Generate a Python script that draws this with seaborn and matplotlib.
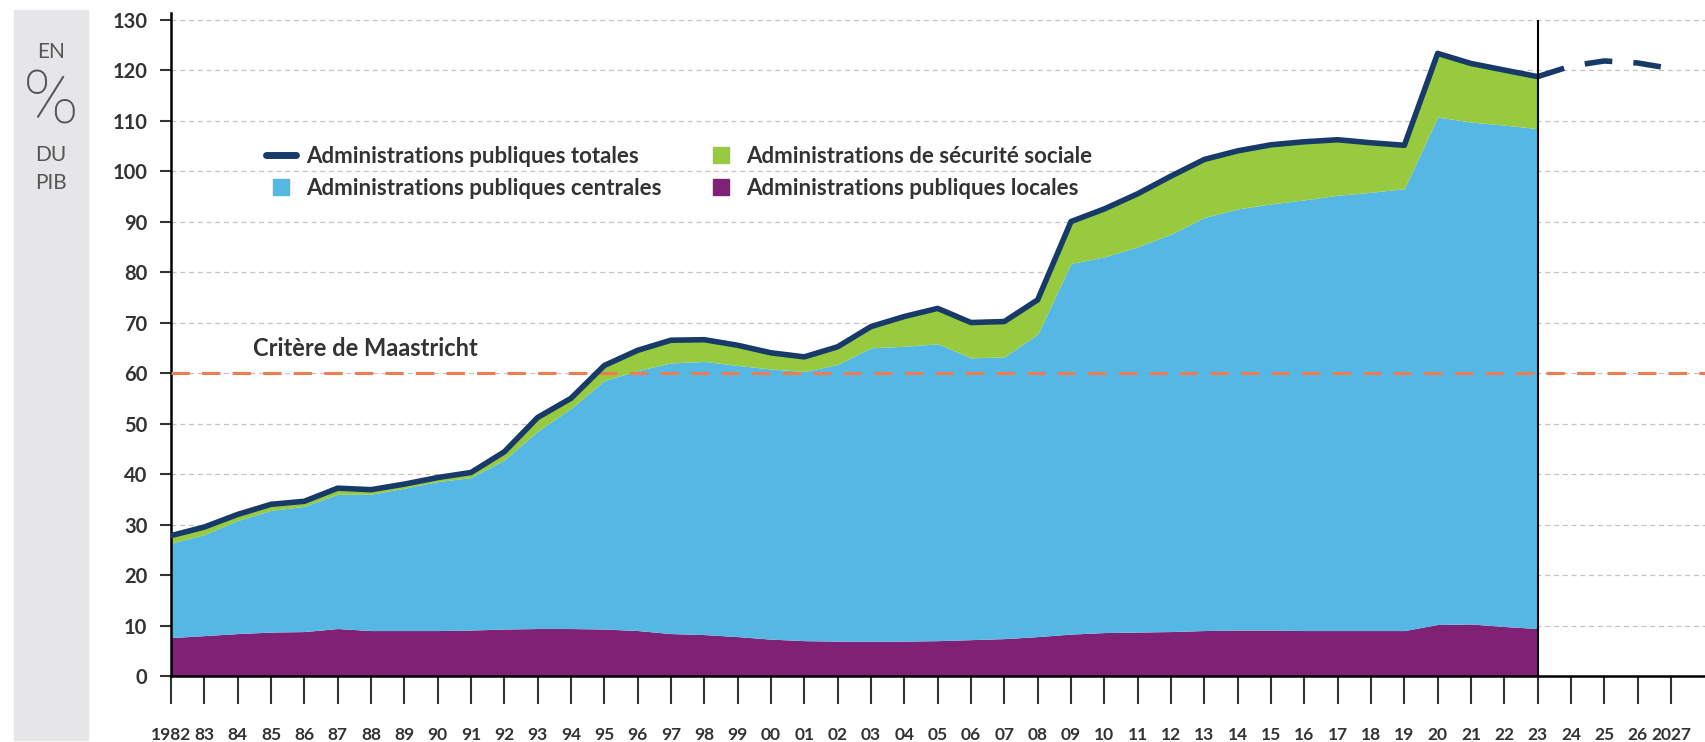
import matplotlib.pyplot as plt
import pandas as pd
import seaborn as sns
import numpy as np
from matplotlib.lines import Line2D
from matplotlib.patches import Rectangle

# Dette publique en % du PIB, par sous-secteur
years = list(range(1982, 2024))
locales = [7.6, 8.0, 8.4, 8.7, 8.8, 9.4, 9.0, 9.0, 9.0, 9.1,
           9.3, 9.4, 9.4, 9.3, 9.0, 8.4, 8.2, 7.8, 7.3, 7.0,
           6.9, 6.9, 6.9, 7.0, 7.2, 7.4, 7.8, 8.3, 8.6, 8.7,
           8.8, 9.0, 9.1, 9.1, 9.0, 9.0, 9.0, 9.0, 10.2, 10.3,
           9.8, 9.4]
centrales = [18.7, 20.0, 22.4, 24.1, 24.8, 26.6, 27.0, 28.2, 29.5, 30.2,
             33.5, 39.1, 43.6, 49.2, 51.5, 53.6, 54.1, 53.7, 53.5, 53.3,
             54.8, 58.1, 58.4, 58.8, 55.8, 55.8, 59.9, 73.4, 74.4, 76.3,
             78.7, 81.8, 83.4, 84.4, 85.3, 86.2, 86.8, 87.5, 100.5, 99.4,
             99.3, 99.0]
secu = [1.5, 1.5, 1.2, 1.2, 1.0, 1.2, 0.9, 0.8, 0.8, 1.0,
        1.6, 2.7, 2.0, 3.0, 4.0, 4.5, 4.3, 4.0, 3.2, 2.9,
        3.5, 4.2, 5.9, 7.0, 7.0, 7.0, 6.8, 8.3, 9.5, 10.5,
        11.5, 11.5, 11.5, 11.7, 11.5, 11.0, 9.8, 8.6, 12.6, 11.6,
        10.9, 10.3]
proj_years = [2023, 2024, 2025, 2026, 2027]
proj_total = [118.7, 120.8, 121.8, 121.4, 120.3]
maastricht = 60

xtick_years = list(range(1982, 2028))
xtick_labels = ["1982", "83", "84", "85", "86", "87", "88", "89", "90", "91",
                "92", "93", "94", "95", "96", "97", "98", "99", "00", "01",
                "02", "03", "04", "05", "06", "07", "08", "09", "10", "11",
                "12", "13", "14", "15", "16", "17", "18", "19", "20", "21",
                "22", "23", "24", "25", "26", "2027"]
legend_labels = ["Administrations publiques totales",
                 "Administrations publiques centrales",
                 "Administrations de sécurité sociale",
                 "Administrations publiques locales"]

purple = "#7F2275"
blue = "#55B8E4"
green = "#97CA3F"
navy = "#173A68"
orange = "#EE7C50"
txt = "#333333"

df = pd.DataFrame({"annee": years,
                   "total": np.array(locales) + np.array(centrales) + np.array(secu)})

sns.set_theme(style="white")
plt.rcParams["font.family"] = ["Lato", "DejaVu Sans"]

fig = plt.figure(figsize=(17.06, 7.42), dpi=100)
ax = fig.add_axes([171 / 1706, 66 / 742, 1535 / 1706, 663 / 742])

# grey side panel
fig.add_artist(Rectangle((14 / 1706, 2 / 742), 74 / 1706, 730 / 742,
                         transform=fig.transFigure, color="#E6E6E9", zorder=0))
fig.text(51 / 1706, 1 - 52 / 742, "EN", ha="center", va="center", fontsize=15, color="#555555")
fig.text(51 / 1706, 1 - 103 / 742, "%", ha="center", va="center", fontsize=54,
         family=["Roboto", "DejaVu Sans"], fontweight="light", color="#555555")
fig.text(51 / 1706, 1 - 155 / 742, "DU", ha="center", va="center", fontsize=15, color="#555555")
fig.text(51 / 1706, 1 - 183 / 742, "PIB", ha="center", va="center", fontsize=15, color="#555555")

ax.stackplot(years, locales, centrales, secu, colors=[purple, blue, green],
             linewidth=0, zorder=2)
sns.lineplot(data=df, x="annee", y="total", color=navy, linewidth=4, ax=ax, zorder=4)
ax.plot(proj_years, proj_total, color=navy, linewidth=4, dashes=(5, 3.8), zorder=4)

ax.axhline(maastricht, color=orange, linewidth=2.2, dashes=(6, 4), zorder=3)
ax.text(1984.45, 64.8, "Critère de Maastricht", fontsize=17, fontweight="bold",
        color=txt, va="center")
ax.vlines(2023, 0, 130, color="black", linewidth=1.5, zorder=5)

ax.set_xlim(1982, 2028.05)
ax.set_ylim(0, 131.3)
ax.set_yticks(range(0, 131, 10))
ax.set_xticks(xtick_years)
ax.set_xticklabels(xtick_labels)
ax.grid(axis="y", color="#C4C4C4", linestyle=(0, (4, 3)), linewidth=0.9)
ax.set_axisbelow(True)
ax.set_xlabel("")
ax.set_ylabel("")

for s in ["top", "right"]:
    ax.spines[s].set_visible(False)
for s in ["left", "bottom"]:
    ax.spines[s].set_color("black")
    ax.spines[s].set_linewidth(1.8)

ax.tick_params(axis="x", bottom=True, length=20, width=1.5, color="#333333",
               pad=17, labelsize=12.5, labelcolor=txt)
ax.tick_params(axis="y", left=True, length=8, width=1.5, color="#333333",
               pad=9, labelsize=14.5, labelcolor=txt)
for lab in ax.get_xticklabels() + ax.get_yticklabels():
    lab.set_fontweight("bold")

handles = [Line2D([0], [0], color=navy, linewidth=5),
           Line2D([], [], marker="s", markersize=11, linestyle="none", color=blue),
           Line2D([], [], marker="s", markersize=11, linestyle="none", color=green),
           Line2D([], [], marker="s", markersize=11, linestyle="none", color=purple)]
leg = ax.legend(handles, legend_labels, ncol=2, loc="upper left",
                bbox_to_anchor=((266 - 171) / 1535, (676 - 146) / 663),
                frameon=False, prop={"size": 16, "weight": "bold"},
                handlelength=1.35, handletextpad=0.45,
                columnspacing=2.0, labelspacing=0.5, borderaxespad=0, borderpad=0,
                labelcolor=txt)

plt.savefig("out.png", dpi=100)
plt.close()
